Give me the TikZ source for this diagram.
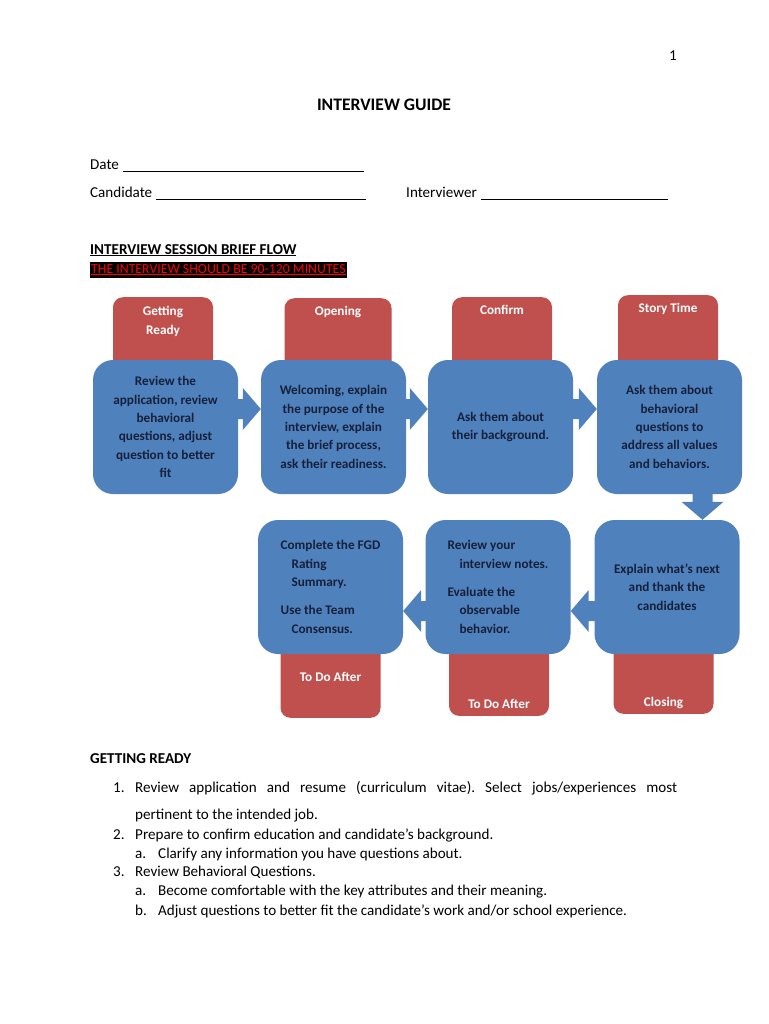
\documentclass[tikz,border=0pt]{standalone}
\usepackage{fontspec}
\setmainfont{Carlito}
\usepackage{xcolor}
\usetikzlibrary{calc}
\frenchspacing

\definecolor{flowblue}{HTML}{4F81BD}
\definecolor{flowred}{HTML}{C0504D}
\definecolor{boxink}{HTML}{17203A}
\definecolor{alertred}{HTML}{FF0000}

\newcommand{\rightflow}[3]{%
  \fill[flowblue] let \p1=([yshift=#3]#1.east), \p2=(#2.west) in
    (\x1-2pt,\y1+10pt) -- (\x2-18pt,\y1+10pt) -- (\x2-18pt,\y1+21pt) -- (\x2,\y1)
    -- (\x2-18pt,\y1-21pt) -- (\x2-18pt,\y1-10pt) -- (\x1-2pt,\y1-10pt) -- cycle;}
\newcommand{\leftflow}[3]{%
  \fill[flowblue] let \p1=([yshift=#3]#1.west), \p2=(#2.east) in
    (\x1+2pt,\y1+10pt) -- (\x2+18pt,\y1+10pt) -- (\x2+18pt,\y1+21pt) -- (\x2,\y1)
    -- (\x2+18pt,\y1-21pt) -- (\x2+18pt,\y1-10pt) -- (\x1+2pt,\y1-10pt) -- cycle;}
\newcommand{\downflow}[3]{%
  \fill[flowblue] let \p1=([xshift=#3]#1.south), \p2=(#2.north) in
    (\x1-10pt,\y1+2pt) -- (\x1-10pt,\y2+18pt) -- (\x1-21pt,\y2+18pt) -- (\x1,\y2)
    -- (\x1+21pt,\y2+18pt) -- (\x1+10pt,\y2+18pt) -- (\x1+10pt,\y1+2pt) -- cycle;}

\begin{document}
\begin{tikzpicture}[x=1pt,y=-1pt,
  body/.style={font=\fontsize{15.1}{18}\selectfont, inner sep=0pt, anchor=base west},
  tabbox/.style={fill=flowred, rounded corners=10pt, minimum width=100pt,
    inner xsep=0pt, inner ysep=7pt, text=white, align=center,
    font=\fontsize{13.2}{18.3}\selectfont\bfseries},
  flowbox/.style={fill=flowblue, rounded corners=20pt, minimum width=145pt,
    minimum height=134pt, inner sep=0pt, text=boxink,
    font=\fontsize{13.2}{18.3}\selectfont\bfseries}]
 \path[fill=white,use as bounding box] (0,0) rectangle (768,1024);

 \node[body] (pagenum) at (669,61) {1};
 \node[font=\fontsize{17.6}{20}\selectfont\bfseries] (title) at (384,105) {INTERVIEW GUIDE};
 \node[body] (date) at (90,170) {Date};
 \draw[line width=0.9pt] ([xshift=4pt,yshift=-1.5pt]date.base east) -- ++(241,0);
 \node[body] (cand) at (90,198) {Candidate};
 \draw[line width=0.9pt] ([xshift=4pt,yshift=-1.5pt]cand.base east) -- ++(210,0);
 \node[body] (interv) at (406,198) {Interviewer};
 \draw[line width=0.9pt] ([xshift=4pt,yshift=-1.5pt]interv.base east) -- ++(187,0);
 \node[body, font=\fontsize{15.1}{18}\selectfont\bfseries] (flowhead) at (90,254)
   {\underline{INTERVIEW SESSION BRIEF FLOW}};
 \node[body, fill=black, text=alertred, inner xsep=1pt, inner ysep=2.5pt] (timenote) at (90,273)
   {\fontsize{13.8}{17}\selectfont\underline{THE INTERVIEW SHOULD BE 90-120 MINUTES}};

 \node[tabbox, anchor=north, text height=30pt, text depth=40pt] (tabready) at (163,297) {Getting\\Ready};
 \node[tabbox, anchor=north, text height=10pt, text depth=60pt, minimum width=107pt] (tabopen) at (338,298) {Opening};
 \node[tabbox, anchor=north, text height=10pt, text depth=60pt] (tabconfirm) at (502,297) {Confirm};
 \node[tabbox, anchor=north, text height=10pt, text depth=60pt] (tabstory) at (668,295) {Story Time};
 \node[tabbox, anchor=south, text height=35pt, text depth=29pt] (tabafterA) at (330.5,718) {To Do After};
 \node[tabbox, anchor=south, text height=62pt, text depth=0pt] (tabafterB) at (499,716) {To Do After};
 \node[tabbox, anchor=south, text height=60pt, text depth=0pt] (tabclosing) at (663.5,714) {Closing};

 \node[flowbox, align=center] (getready) at (165.5,427)
   {Review the\\application, review\\behavioral\\questions, adjust\\question to better\\fit};
 \node[flowbox, align=center] (opening) at (333.5,427)
   {Welcoming, explain\\the purpose of the\\interview, explain\\the brief process,\\ask their readiness.};
 \node[flowbox, align=center] (confirm) at (500.5,427)
   {Ask them about\\their background.};
 \node[flowbox, align=center] (story) at (669.5,427)
   {Ask them about\\behavioral\\questions to\\address all values\\and behaviors.};
 \node[flowbox, align=center] (closing) at (667,587)
   {Explain what's next\\and thank the\\candidates};
 \node[flowbox, align=left] (review) at (498,587)
   {Review your\\\hspace*{12pt}interview notes.\\[10pt]Evaluate the\\\hspace*{12pt}observable\\\hspace*{12pt}behavior.};
 \node[flowbox, align=left] (complete) at (330.5,587)
   {Complete the FGD\\\hspace*{11pt}Rating\\\hspace*{11pt}Summary.\\[10pt]Use the Team\\\hspace*{11pt}Consensus.};

 \rightflow{getready}{opening}{18pt}
 \rightflow{opening}{confirm}{18pt}
 \rightflow{confirm}{story}{18pt}
 \downflow{story}{closing}{33pt}
 \leftflow{closing}{review}{-24pt}
 \leftflow{review}{complete}{-24pt}

 \node[body, font=\fontsize{15.1}{18}\selectfont\bfseries] (readyhead) at (90,763) {GETTING READY};
 \node[body] (n1) at (113,792) {1.};
 \node[body] (item1) at (135,792)
   {\makebox[542pt][s]{Review application and resume (curriculum vitae). Select jobs/experiences most}};
 \node[body] (item1b) at (135,819) {pertinent to the intended job.};
 \node[body] (n2) at (113,839) {2.};
 \node[body] (item2) at (135,839) {Prepare to confirm education and candidate’s background.};
 \node[body] (n2a) at (135,858) {a.};
 \node[body] (item2a) at (158,858) {Clarify any information you have questions about.};
 \node[body] (n3) at (113,876) {3.};
 \node[body] (item3) at (135,876) {Review Behavioral Questions.};
 \node[body] (n3a) at (135,895) {a.};
 \node[body] (item3a) at (158,895) {Become comfortable with the key attributes and their meaning.};
 \node[body] (n3b) at (135,915) {b.};
 \node[body] (item3b) at (158,915) {Adjust questions to better fit the candidate’s work and/or school experience.};
\end{tikzpicture}
\end{document}
